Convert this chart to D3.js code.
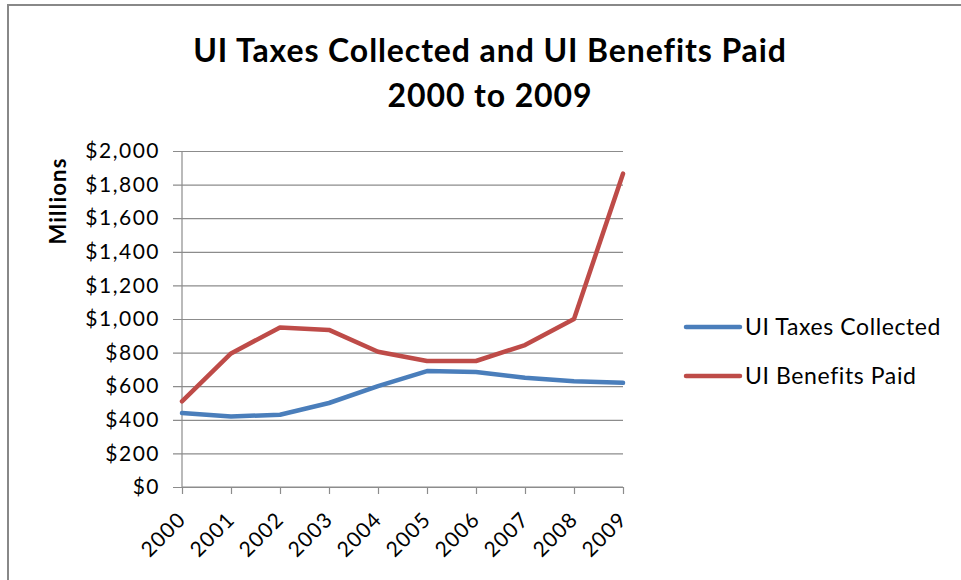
<!DOCTYPE html>
<html>
<head>
<meta charset="utf-8">
<script src="https://cdn.jsdelivr.net/npm/d3@7"></script>
<style>
  body { margin: 0; background: #fff; }
  text { font-family: Lato, "Open Sans", sans-serif; fill: #000; }
</style>
</head>
<body>
<div id="chart-area"></div>
<script>
// values (millions of dollars)
var years = ["2000", "2001", "2002", "2003", "2004", "2005", "2006", "2007", "2008", "2009"];
var taxesCollected = [440, 420, 430, 500, 600, 690, 685, 650, 630, 620];
var benefitsPaid = [510, 795, 950, 935, 805, 750, 750, 845, 1000, 1865];
var yTicks = [0, 200, 400, 600, 800, 1000, 1200, 1400, 1600, 1800, 2000];
var seriesNames = ["UI Taxes Collected", "UI Benefits Paid"];
var seriesColors = ["#4a7ebb", "#be4b48"];

var W = 961, H = 580;
var margin = { left: 182, right: 338, top: 151, bottom: 93 };
var width = W - margin.left - margin.right,
    height = H - margin.top - margin.bottom;

var root = d3.select("#chart-area")
    .append("svg")
        .attr("width", W)
        .attr("height", H);

// outer chart frame
root.append("rect")
    .attr("x", 8)
    .attr("y", 5)
    .attr("width", W + 20)
    .attr("height", H + 20)
    .attr("fill", "none")
    .attr("stroke", "#888")
    .attr("stroke-width", 2);

// Title
var title = root.append("text")
    .attr("text-anchor", "middle")
    .attr("font-size", "32px")
    .attr("letter-spacing", "0.9px")
    .attr("font-weight", "bold");
title.append("tspan").attr("x", 490).attr("y", 62).text("UI Taxes Collected and UI Benefits Paid");
title.append("tspan").attr("x", 490).attr("y", 107).text("2000 to 2009");

var svg = root.append("g")
    .attr("transform", "translate(" + margin.left + ", " + margin.top + ")");

// Scales
var x = d3.scalePoint()
    .domain(years)
    .range([0, width]);

var y = d3.scaleLinear()
    .domain([0, 2000])
    .range([height, 0]);

// Gridlines + Y axis
var yAxis = svg.append("g")
    .call(d3.axisLeft(y)
        .tickValues(yTicks)
        .tickSize(-width)
        .tickPadding(22)
        .tickFormat(function(d){ return "$" + d3.format(",")(d); }));
yAxis.select(".domain").remove();
yAxis.selectAll(".tick line")
    .attr("x1", -9)
    .attr("stroke", "#8c8c8c")
    .attr("stroke-width", 1.2);
yAxis.selectAll(".tick text")
    .attr("font-size", "21px")
    .attr("letter-spacing", "1.5px")
    .attr("fill", "#000");

// Y axis line
svg.append("line")
    .attr("x1", 0).attr("x2", 0)
    .attr("y1", 0).attr("y2", height)
    .attr("stroke", "#8c8c8c")
    .attr("stroke-width", 1.2);

// X axis
var xAxis = svg.append("g")
    .attr("transform", "translate(0," + height + ")")
    .call(d3.axisBottom(x).tickSize(7).tickFormat(""));
xAxis.select(".domain")
    .attr("stroke", "#8c8c8c")
    .attr("stroke-width", 1.2)
    .attr("d", "M0,0H" + width);
xAxis.selectAll(".tick line")
    .attr("stroke", "#8c8c8c")
    .attr("stroke-width", 1.2);

svg.selectAll(".x-label")
    .data(years)
    .enter().append("text")
        .attr("class", "x-label")
        .attr("text-anchor", "end")
        .attr("font-size", "21px")
        .attr("letter-spacing", "1px")
        .attr("transform", function(d){
            return "translate(" + (x(d) + 5) + "," + (height + 34) + ") rotate(-45)";
        })
        .text(function(d){ return d; });

// Y label
root.append("text")
    .attr("transform", "rotate(-90)")
    .attr("x", -201)
    .attr("y", 66)
    .attr("font-size", "22px")
    .attr("letter-spacing", "1.2px")
    .attr("font-weight", "bold")
    .attr("text-anchor", "middle")
    .text("Millions");

// Lines
var line = d3.line()
    .x(function(d, i){ return x(years[i]); })
    .y(function(d){ return y(d); });

[taxesCollected, benefitsPaid].forEach(function(values, i){
    svg.append("path")
        .datum(values)
        .attr("fill", "none")
        .attr("stroke", seriesColors[i])
        .attr("stroke-width", 4.5)
        .attr("stroke-linejoin", "round")
        .attr("stroke-linecap", "round")
        .attr("d", line);
});

// Legend
var legend = root.append("g")
    .attr("transform", "translate(686, 327)");

seriesNames.forEach(function(name, i){
    var legendRow = legend.append("g")
        .attr("transform", "translate(0, " + (i * 49) + ")");

    legendRow.append("line")
        .attr("x1", 0).attr("x2", 54)
        .attr("stroke", seriesColors[i])
        .attr("stroke-width", 4.5)
        .attr("stroke-linecap", "round");

    legendRow.append("text")
        .attr("x", 59)
        .attr("y", 8)
        .attr("font-size", "23px")
        .attr("letter-spacing", "0.6px")
        .text(name);
});
</script>
</body>
</html>
